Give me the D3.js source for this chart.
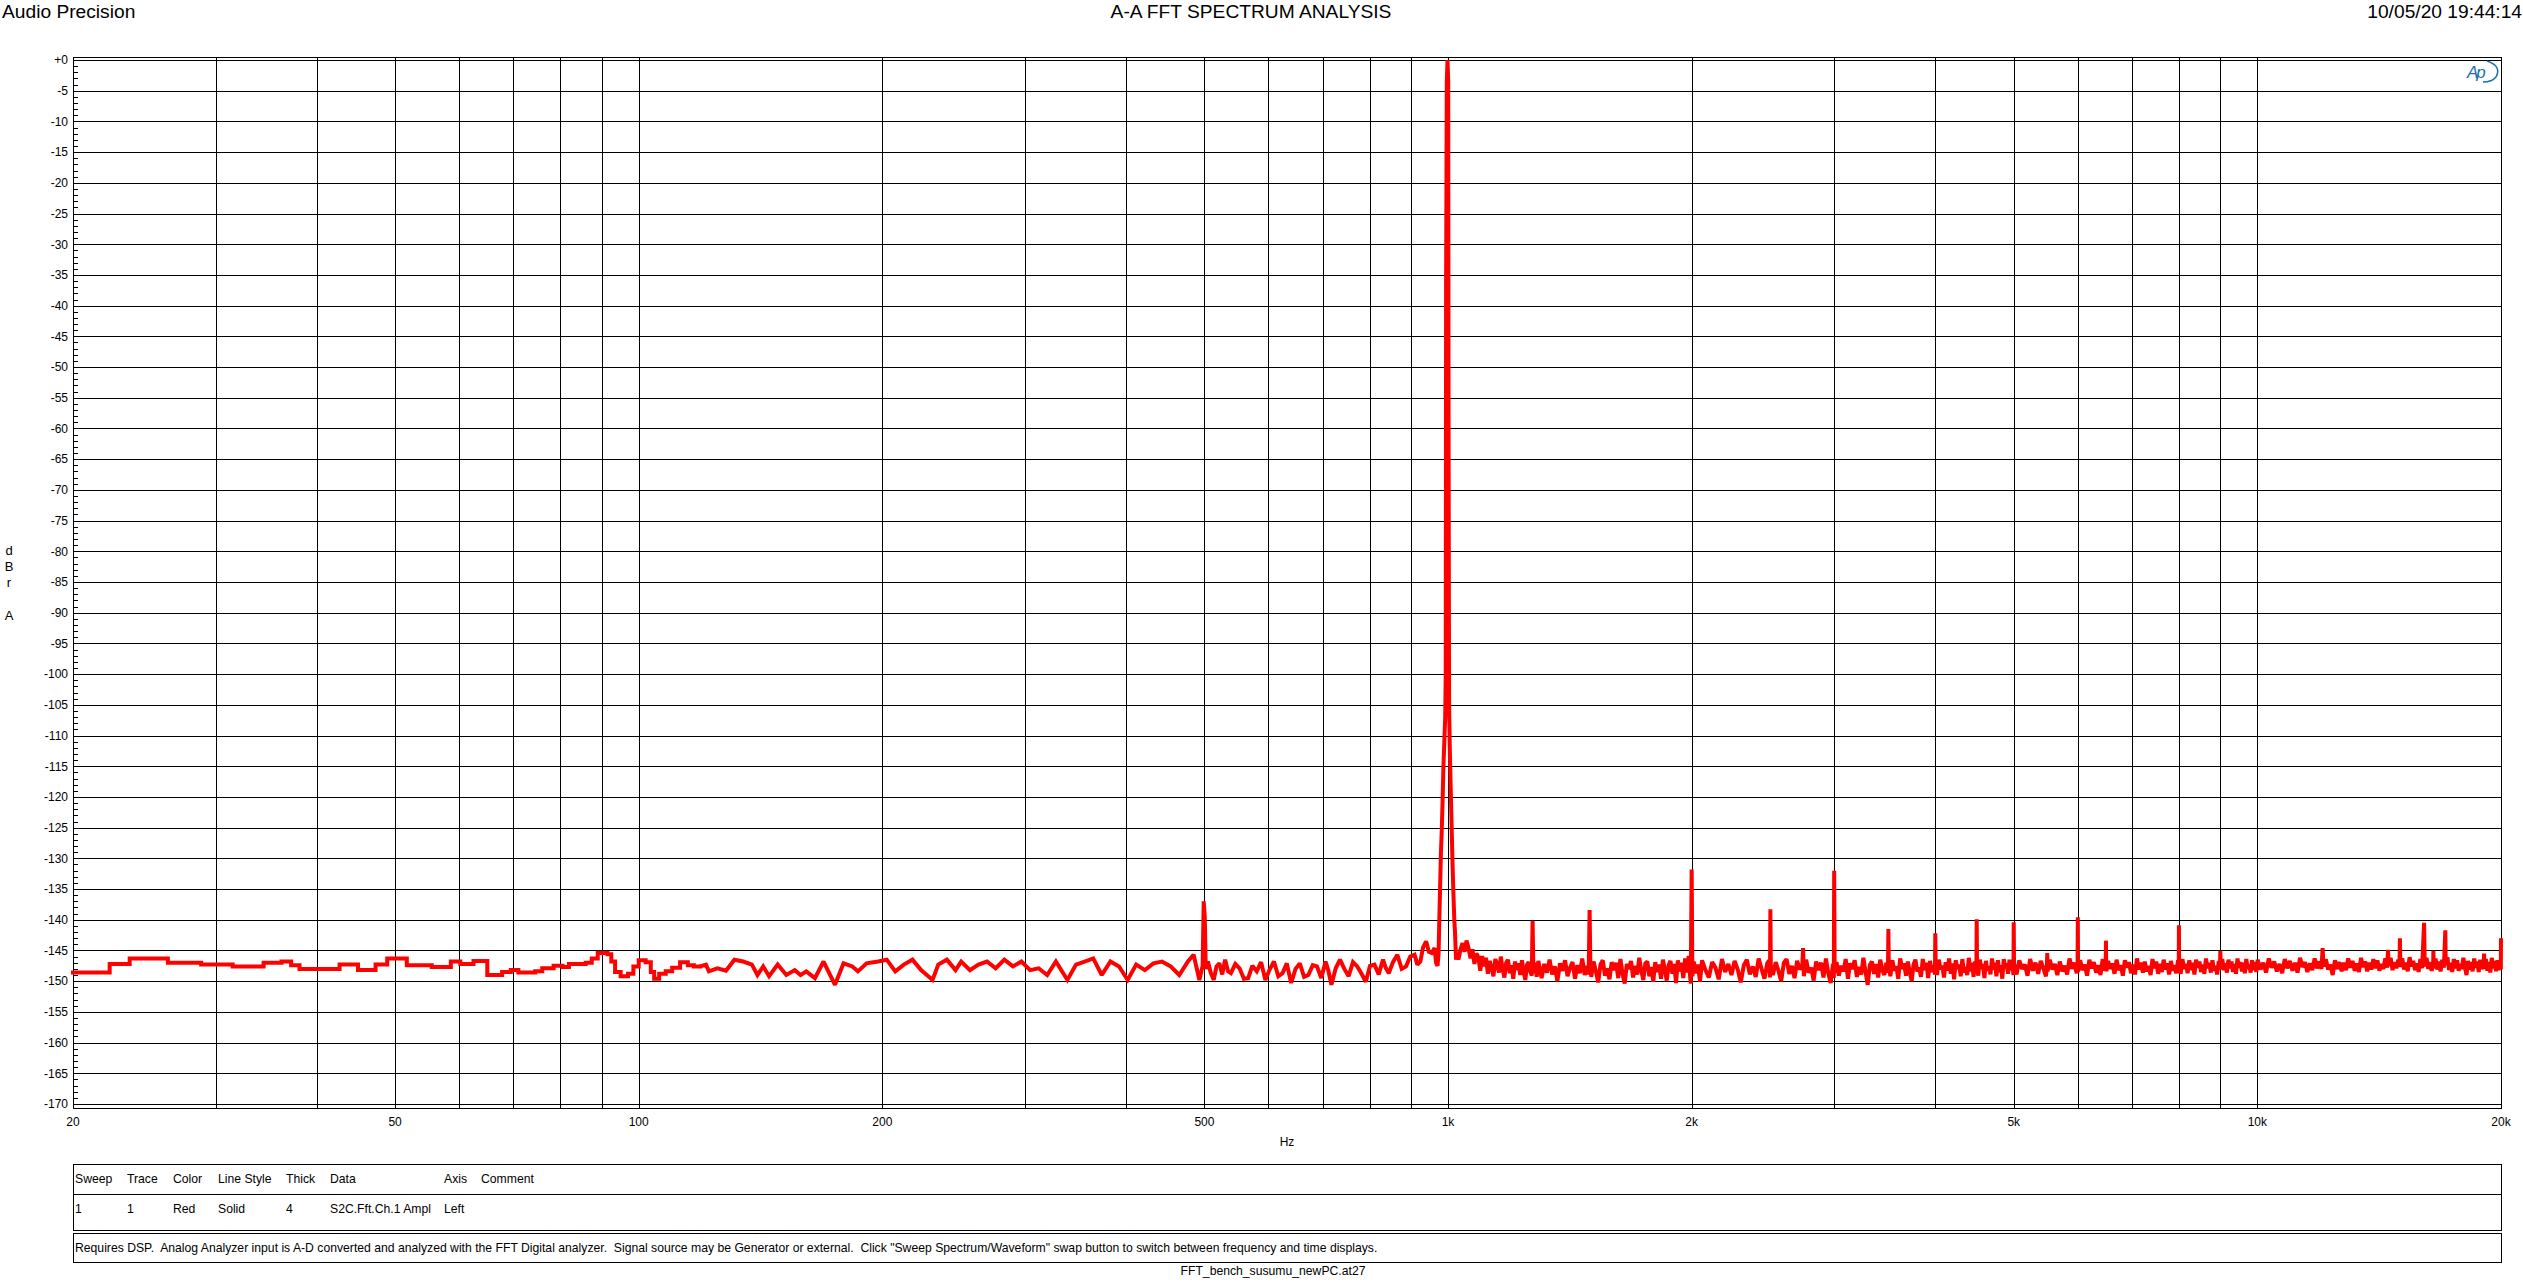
<!DOCTYPE html>
<html><head><meta charset="utf-8">
<script src="https://cdn.jsdelivr.net/npm/d3@7/dist/d3.min.js"></script>
<style>
body{margin:0;background:#fff;overflow:hidden}
svg text{font-family:"Liberation Sans",Arial,sans-serif;fill:#000}
</style>
</head><body>
<svg id="chart" width="2523" height="1285"></svg>
<script>
// ---------------- DATA ----------------
const yTickValues = [0,-5,-10,-15,-20,-25,-30,-35,-40,-45,-50,-55,-60,-65,-70,-75,-80,-85,-90,-95,-100,-105,-110,-115,-120,-125,-130,-135,-140,-145,-150,-155,-160,-165,-170];
const yTickLabels = ["+0","-5","-10","-15","-20","-25","-30","-35","-40","-45","-50","-55","-60","-65","-70","-75","-80","-85","-90","-95","-100","-105","-110","-115","-120","-125","-130","-135","-140","-145","-150","-155","-160","-165","-170"];
const xTickValues = [20,50,100,200,500,1000,2000,5000,10000,20000];
const xTickLabels = ["20","50","100","200","500","1k","2k","5k","10k","20k"];
const xGridValues = [20,30,40,50,60,70,80,90,100,200,300,400,500,600,700,800,900,1000,2000,3000,4000,5000,6000,7000,8000,9000,10000,20000];

// Noise floor, 20 - 119 Hz (wide FFT bins, drawn as steps) [Hz, dBr]
const floorLow = [[20,-148.6],[22.2,-147.2],[23.5,-146.3],[26.2,-147.0],[28.8,-147.3],[31.5,-147.6],[34.4,-147.0],[36.2,-146.8],[37.2,-147.4],[38.1,-148.0],[42.7,-147.3],[45.0,-148.2],[47.3,-147.3],[48.9,-146.3],[51.7,-147.4],[55.5,-147.7],[58.6,-146.8],[60.2,-147.2],[62.5,-146.7],[65.0,-149.0],[67.8,-148.5],[69.5,-148.2],[71.0,-148.6],[74.5,-148.4],[76.0,-147.9],[78.5,-147.5],[80.5,-147.7],[82.0,-147.2],[86.0,-147.0],[87.5,-146.3],[89.0,-145.4],[91.5,-145.6],[92.5,-146.8],[93.5,-148.5],[95.0,-149.2],[97.0,-148.8],[98.5,-147.6],[100.0,-146.6],[102.0,-146.9],[103.5,-148.5],[104.5,-149.6],[106.0,-148.8],[108.0,-148.4],[110.0,-147.8],[112.5,-146.9],[115.0,-147.4],[117.0,-147.6]];

// Noise floor 119 - 970 Hz, incl. 500 Hz spur
const floorMid = [[119.1,-147.6],[121.1,-147.3],[122.1,-148.4],[125.1,-147.9],[128.2,-148.3],[131.3,-146.5],[134.6,-146.8],[138.0,-147.3],[140.2,-149.0],[142.5,-147.6],[144.9,-149.2],[148.5,-147.3],[152.2,-149.0],[155.9,-148.2],[158.5,-149.0],[161.1,-148.4],[165.1,-149.5],[169.2,-146.8],[174.8,-150.6],[179.1,-147.1],[183.6,-147.6],[186.6,-148.4],[191.2,-147.1],[197.6,-146.8],[202.5,-146.5],[207.5,-148.4],[212.6,-147.3],[217.9,-146.5],[223.3,-148.2],[230.7,-149.8],[234.5,-147.3],[240.3,-146.5],[246.3,-148.2],[250.3,-146.8],[256.6,-148.2],[262.9,-147.3],[269.4,-146.8],[276.1,-147.9],[283.0,-146.5],[290.0,-147.6],[297.1,-146.8],[304.5,-148.2],[312.0,-147.9],[319.7,-149.0],[327.7,-146.8],[338.6,-149.8],[347.0,-147.3],[355.6,-146.8],[364.4,-146.3],[373.4,-149.0],[382.7,-146.8],[392.2,-147.6],[401.9,-149.8],[411.8,-147.3],[422.1,-148.2],[432.5,-147.1],[443.2,-146.8],[454.3,-147.6],[465.5,-149.0],[477.1,-146.8],[484.9,-145.7],[492.9,-149.8],[497.5,-147.5],[499.0,-137.0],[500.5,-139.5],[502.0,-148.0],[505.1,-146.8],[509.0,-148.6],[513.5,-149.8],[517.5,-147.6],[521.8,-147.1],[526.0,-148.9],[530.4,-146.5],[534.8,-148.4],[539.2,-148.7],[546.0,-147.2],[552.6,-147.9],[559.5,-149.6],[566.3,-149.5],[573.0,-147.5],[580.3,-148.4],[587.5,-146.9],[594.7,-149.8],[602.0,-148.1],[609.4,-146.8],[617.0,-149.2],[624.5,-148.7],[632.0,-147.1],[640.0,-150.3],[648.0,-148.0],[655.9,-147.1],[664.0,-149.3],[672.1,-149.0],[680.5,-147.4],[688.8,-147.6],[697.3,-149.5],[705.8,-146.8],[711.5,-148.3],[717.6,-150.6],[726.5,-147.9],[735.4,-146.5],[744.5,-148.0],[753.7,-149.2],[763.0,-146.9],[772.3,-147.6],[782.0,-148.8],[791.4,-150.1],[801.0,-147.5],[811.1,-147.3],[821.0,-148.9],[831.1,-146.5],[838.0,-147.9],[844.8,-148.7],[855.0,-146.9],[865.7,-145.7],[876.5,-148.0],[887.3,-147.6],[898.0,-146.0],[909.2,-145.7],[916.5,-147.3],[924.2,-146.8],[931.5,-144.5],[939.5,-143.5],[947.0,-145.2],[954.8,-145.4],[962.5,-144.6],[966.5,-147.0]];

// 1 kHz fundamental and its skirt
const fundamental = [[970.6,-147.5],[973.5,-145.5],[975.5,-140],[978,-134],[980,-129],[982,-126],[984.5,-121],[987,-115],[989.5,-111],[992,-107],[993.5,-100],[994.5,-37],[996.5,-3.5],[998.5,0],[1000.5,-3.5],[1001.5,-60],[1003,-105],[1005,-112],[1007,-117],[1010,-124],[1012.5,-130],[1015,-135],[1018,-140],[1020,-142],[1023,-146.5],[1026,-145.5]];

// Noise floor 1.03 - 1.3 kHz (incl. 1.27 kHz spur)
const floorHighA = [[1030,-146.5],[1036,-144.9],[1042,-143.8],[1048,-145.2],[1054,-143.4],[1060,-144.6],[1066,-146.3],[1072,-144.8],[1078,-147.2],[1084,-145.5],[1090,-146.1],[1096,-148.3],[1102,-145.9],[1108,-147.6],[1114,-146.2],[1120,-148.8],[1126,-146.7],[1132,-147.9],[1138,-149.2],[1144,-146.4],[1150,-147.3],[1156,-148.6],[1162,-146.0],[1168,-148.1],[1174,-149.4],[1180,-147.0],[1186,-146.5],[1192,-148.7],[1198,-147.4],[1204,-149.6],[1210,-146.8],[1216,-148.2],[1222,-147.1],[1228,-149.0],[1234,-146.6],[1240,-148.4],[1246,-149.8],[1252,-147.3],[1258,-146.9],[1264,-148.5],[1269,-149.1],[1272,-140.2],[1275,-148.7],[1281,-147.0],[1287,-149.3],[1293,-146.7],[1299,-148.1]];

// Noise floor 1.3 - 2 kHz (incl. 1.5 kHz spur, 2 kHz harmonic)
const floorHighB = [[1305,-149.5],[1315,-147.2],[1325,-148.6],[1335,-146.5],[1345,-148.9],[1355,-147.6],[1365,-150.0],[1375,-147.1],[1385,-148.3],[1395,-146.6],[1405,-149.2],[1415,-147.8],[1425,-146.9],[1435,-149.6],[1445,-147.4],[1455,-148.7],[1465,-146.3],[1475,-149.0],[1485,-147.5],[1492,-148.9],[1496,-138.4],[1499,-147.0],[1503,-149.3],[1513,-146.8],[1523,-148.4],[1533,-150.2],[1543,-147.3],[1553,-146.6],[1563,-149.1],[1573,-147.9],[1583,-149.7],[1593,-146.9],[1603,-148.2],[1613,-147.0],[1623,-149.5],[1633,-146.4],[1643,-148.8],[1653,-150.4],[1663,-147.2],[1673,-148.0],[1683,-146.7],[1693,-149.4],[1703,-147.5],[1713,-148.9],[1723,-146.2],[1733,-148.3],[1743,-149.8],[1753,-147.1],[1763,-146.8],[1773,-149.2],[1783,-147.7],[1793,-150.1],[1803,-146.9],[1813,-148.5],[1823,-147.3],[1833,-149.6],[1843,-146.5],[1853,-148.1],[1863,-149.9],[1873,-147.4],[1883,-146.7],[1893,-148.8],[1903,-147.2],[1913,-150.3],[1923,-146.6],[1933,-148.4],[1943,-147.0],[1953,-149.5],[1963,-146.3],[1973,-148.6],[1983,-145.9],[1990,-148.9],[1995,-150.4],[2000,-131.8],[2004,-149.2]];

// Noise floor 2 - 5 kHz (harmonics and spurs)
const floorHighC = [[2012,-146.8],[2024,-148.7],[2036,-147.3],[2048,-150.1],[2060,-146.6],[2080,-148.2],[2100,-149.4],[2120,-146.9],[2140,-147.8],[2160,-149.7],[2180,-146.4],[2200,-148.5],[2220,-147.2],[2240,-149.0],[2260,-146.7],[2280,-148.1],[2300,-150.2],[2320,-147.4],[2340,-146.5],[2360,-148.9],[2380,-147.6],[2400,-149.3],[2420,-146.3],[2440,-148.0],[2460,-149.6],[2480,-147.1],[2494,-146.6],[2499,-149.4],[2502,-138.3],[2505,-147.6],[2520,-149.0],[2540,-146.9],[2560,-148.3],[2580,-150.0],[2600,-147.0],[2620,-146.4],[2640,-148.8],[2660,-147.5],[2680,-149.5],[2700,-146.7],[2720,-148.1],[2740,-147.3],[2746,-144.6],[2752,-149.2],[2770,-146.5],[2790,-148.6],[2810,-147.8],[2830,-149.9],[2850,-146.8],[2870,-148.2],[2890,-147.0],[2910,-149.4],[2930,-146.3],[2950,-148.7],[2970,-150.3],[2990,-147.2],[2997,-149.5],[3000,-132.0],[3004,-148.6],[3020,-146.9],[3040,-149.1],[3060,-147.5],[3080,-148.4],[3100,-146.4],[3120,-149.6],[3140,-147.1],[3160,-148.0],[3180,-146.6],[3200,-149.3],[3220,-147.7],[3240,-148.9],[3260,-146.2],[3280,-148.5],[3300,-150.6],[3320,-147.4],[3340,-146.8],[3360,-148.8],[3380,-147.2],[3400,-149.4],[3420,-146.5],[3440,-148.1],[3460,-149.0],[3480,-147.0],[3496,-148.6],[3500,-141.5],[3504,-147.3],[3520,-149.2],[3540,-146.6],[3560,-148.3],[3580,-147.6],[3600,-149.6],[3620,-146.3],[3640,-148.0],[3660,-147.1],[3680,-149.1],[3700,-146.8],[3720,-148.6],[3740,-150.0],[3760,-147.3],[3780,-146.5],[3800,-148.4],[3820,-147.8],[3840,-149.3],[3860,-146.4],[3880,-148.2],[3900,-147.0],[3920,-149.5],[3940,-146.7],[3960,-148.5],[3980,-147.4],[3996,-148.9],[4000,-142.2],[4004,-147.2],[4020,-149.0],[4040,-146.5],[4060,-148.1],[4080,-147.5],[4100,-149.4],[4120,-146.9],[4140,-148.3],[4160,-146.3],[4180,-148.8],[4200,-147.1],[4220,-149.7],[4240,-146.6],[4260,-148.0],[4280,-147.3],[4300,-149.2],[4320,-146.4],[4340,-148.6],[4360,-147.7],[4380,-149.0],[4400,-146.2],[4420,-148.4],[4440,-147.0],[4460,-149.3],[4480,-146.8],[4496,-148.2],[4500,-139.9],[4504,-147.4],[4520,-149.1],[4540,-146.5],[4560,-148.0],[4580,-147.2],[4600,-149.5],[4620,-146.7],[4640,-148.3],[4660,-147.6],[4680,-148.9],[4700,-146.3],[4720,-148.1],[4740,-147.0],[4760,-149.2],[4780,-146.6],[4800,-148.5],[4820,-147.4],[4840,-149.6],[4860,-146.4],[4880,-147.9],[4900,-147.1],[4920,-148.8],[4940,-146.5],[4960,-148.2],[4980,-147.3],[4996,-149.0],[5000,-140.4],[5004,-147.2]];

// Noise floor 5 - 10 kHz
const floorHighD = [[5040,-148.9],[5080,-146.6],[5120,-148.0],[5160,-147.3],[5200,-149.1],[5240,-146.4],[5280,-148.3],[5320,-147.0],[5360,-148.8],[5400,-146.7],[5440,-147.9],[5480,-149.2],[5496,-147.1],[5500,-145.4],[5506,-148.4],[5540,-146.5],[5580,-148.1],[5620,-147.2],[5660,-149.0],[5700,-146.8],[5740,-148.4],[5780,-147.5],[5820,-148.9],[5860,-146.3],[5900,-148.0],[5940,-147.0],[5980,-148.7],[5996,-147.4],[6000,-139.6],[6004,-148.5],[6040,-146.6],[6080,-148.2],[6120,-147.3],[6160,-149.1],[6200,-146.5],[6240,-147.9],[6280,-146.9],[6320,-148.6],[6360,-147.4],[6400,-149.0],[6440,-146.4],[6480,-148.3],[6496,-147.2],[6500,-143.4],[6506,-148.4],[6540,-146.7],[6580,-148.0],[6620,-147.1],[6660,-148.8],[6700,-146.5],[6740,-148.2],[6780,-147.4],[6820,-149.1],[6860,-146.6],[6900,-147.8],[6940,-146.9],[6980,-148.7],[7020,-147.3],[7060,-148.9],[7100,-146.3],[7140,-148.1],[7180,-147.0],[7220,-148.6],[7260,-146.8],[7300,-148.4],[7340,-147.5],[7380,-149.0],[7420,-146.4],[7460,-147.9],[7500,-146.8],[7540,-148.8],[7580,-147.2],[7620,-148.5],[7660,-146.5],[7700,-148.1],[7740,-147.1],[7780,-148.9],[7820,-146.7],[7860,-148.3],[7900,-147.4],[7940,-148.7],[7980,-146.6],[7996,-148.0],[8000,-140.9],[8004,-147.5],[8040,-148.8],[8080,-146.4],[8120,-148.0],[8160,-147.2],[8200,-148.7],[8240,-146.6],[8280,-148.2],[8320,-147.0],[8360,-148.9],[8400,-146.5],[8440,-147.8],[8480,-146.8],[8520,-148.5],[8560,-147.3],[8600,-148.8],[8640,-146.3],[8680,-147.9],[8720,-147.0],[8760,-148.6],[8800,-146.6],[8840,-148.3],[8880,-147.5],[8920,-148.9],[8960,-146.7],[8990,-148.1],[9000,-145.1],[9010,-147.9],[9050,-146.4],[9090,-148.2],[9130,-147.1],[9170,-148.6],[9210,-146.5],[9250,-147.9],[9290,-146.8],[9330,-148.5],[9370,-147.2],[9410,-148.8],[9450,-146.3],[9490,-147.8],[9530,-146.9],[9570,-148.4],[9610,-147.0],[9650,-148.7],[9690,-146.4],[9730,-148.0],[9770,-147.3],[9810,-148.6],[9850,-146.6],[9890,-148.2],[9930,-146.9],[9970,-148.5]];

// Noise floor 10 - 20 kHz
const floorHighE = [[10010,-146.5],[10090,-148.1],[10170,-147.0],[10250,-148.6],[10330,-146.3],[10410,-147.8],[10490,-146.8],[10570,-148.4],[10650,-147.2],[10730,-148.7],[10810,-146.4],[10890,-147.9],[10970,-146.7],[11050,-148.3],[11130,-147.0],[11210,-148.6],[11290,-146.2],[11370,-147.7],[11450,-146.9],[11530,-148.5],[11610,-147.1],[11690,-148.2],[11770,-146.3],[11850,-147.9],[11930,-146.8],[12000,-148.0],[12040,-144.6],[12070,-147.6],[12150,-146.4],[12230,-148.1],[12310,-147.3],[12390,-149.0],[12470,-146.6],[12550,-148.0],[12630,-146.9],[12710,-148.4],[12790,-147.0],[12870,-148.2],[12950,-146.3],[13030,-147.8],[13110,-146.7],[13190,-148.3],[13270,-147.1],[13350,-148.5],[13430,-146.2],[13510,-147.7],[13590,-146.8],[13670,-148.4],[13750,-147.0],[13830,-148.1],[13910,-146.4],[13990,-147.9],[14070,-146.6],[14150,-148.3],[14230,-147.2],[14310,-148.0],[14390,-146.3],[14470,-147.8],[14500,-144.9],[14530,-147.5],[14610,-146.2],[14690,-148.2],[14770,-146.9],[14850,-147.9],[14930,-146.5],[14985,-147.6],[15000,-143.0],[15020,-147.7],[15100,-146.3],[15180,-148.1],[15260,-147.0],[15340,-148.4],[15420,-146.1],[15500,-147.6],[15580,-146.7],[15660,-148.2],[15740,-147.1],[15820,-148.5],[15900,-146.4],[15980,-147.9],[16070,-140.5],[16100,-147.6],[16180,-146.2],[16260,-148.0],[16340,-146.9],[16420,-148.3],[16490,-147.2],[16500,-145.1],[16520,-147.9],[16600,-146.3],[16680,-148.1],[16760,-146.8],[16840,-148.4],[16920,-146.5],[17000,-147.8],[17070,-141.7],[17090,-147.4],[17170,-146.1],[17250,-148.2],[17330,-147.0],[17410,-148.5],[17490,-146.4],[17570,-147.9],[17650,-146.6],[17730,-148.3],[17810,-147.2],[17890,-148.0],[17970,-146.2],[18050,-147.7],[18130,-149.0],[18210,-146.7],[18290,-148.1],[18370,-146.9],[18450,-148.4],[18530,-146.3],[18610,-147.8],[18690,-146.8],[18770,-148.5],[18850,-146.5],[18930,-148.0],[19040,-147.3],[19060,-145.5],[19080,-148.0],[19160,-146.4],[19240,-148.3],[19320,-146.9],[19400,-148.6],[19480,-146.2],[19560,-147.9],[19640,-146.7],[19720,-148.4],[19800,-146.6],[19880,-148.2],[19960,-147.0],[19990,-148.1],[20000,-143.0]];

const legendHeaders = ["Sweep","Trace","Color","Line Style","Thick","Data","Axis","Comment"];
const legendRow = ["1","1","Red","Solid","4","S2C.Fft.Ch.1 Ampl","Left",""];
const noteText = "Requires DSP.  Analog Analyzer input is A-D converted and analyzed with the FFT Digital analyzer.  Signal source may be Generator or external.  Click \"Sweep Spectrum/Waveform\" swap button to switch between frequency and time displays.";

// ---------------- DRAW ----------------
const svg = d3.select("#chart");
const L = 73, R = 2501, T = 57, B = 1108;
const x = d3.scaleLog().domain([20, 20000]).range([L, R]);
const y = d3.scaleLinear().domain([0, -170]).range([60, 1104]);

// header texts
svg.append("text").attr("x", 2).attr("y", 17.5).attr("font-size", 19.2).text("Audio Precision");
svg.append("text").attr("x", 1251).attr("y", 17.5).attr("font-size", 19.2).attr("text-anchor", "middle").text("A-A FFT SPECTRUM ANALYSIS");
svg.append("text").attr("x", 2522).attr("y", 17.5).attr("font-size", 19.2).attr("text-anchor", "end").text("10/05/20 19:44:14");

const g = svg.append("g").attr("shape-rendering", "crispEdges");
g.selectAll(".hg").data(yTickValues).enter().append("line")
  .attr("x1", L).attr("x2", R)
  .attr("y1", d => Math.round(y(d)) + 0.5).attr("y2", d => Math.round(y(d)) + 0.5)
  .attr("stroke", "#000").attr("stroke-width", 1);
g.selectAll(".vg").data(xGridValues).enter().append("line")
  .attr("x1", d => Math.round(x(d)) + 0.5).attr("x2", d => Math.round(x(d)) + 0.5)
  .attr("y1", T).attr("y2", B)
  .attr("stroke", "#000").attr("stroke-width", 1);
const minor = d3.range(0, -171, -1).filter(v => v % 5 !== 0);
g.selectAll(".mt").data(minor).enter().append("line")
  .attr("x1", L).attr("x2", L + 5)
  .attr("y1", d => Math.round(y(d)) + 0.5).attr("y2", d => Math.round(y(d)) + 0.5)
  .attr("stroke", "#000").attr("stroke-width", 1);
g.append("rect").attr("x", L + 0.5).attr("y", T + 0.5).attr("width", R - L).attr("height", B - T)
  .attr("fill", "none").attr("stroke", "#000").attr("stroke-width", 1);

svg.selectAll(".yl").data(yTickValues).enter().append("text")
  .attr("x", 68).attr("y", d => y(d) + 4.3)
  .attr("text-anchor", "end").attr("font-size", 12)
  .text((d, i) => yTickLabels[i]);
svg.selectAll(".xl").data(xTickValues).enter().append("text")
  .attr("x", d => x(d)).attr("y", 1126)
  .attr("text-anchor", "middle").attr("font-size", 12)
  .text((d, i) => xTickLabels[i]);
svg.append("text").attr("x", 1287).attr("y", 1146).attr("text-anchor", "middle").attr("font-size", 12).text("Hz");

[["d", 555], ["B", 571], ["r", 587], ["A", 620]].forEach(([t, yy]) => {
  svg.append("text").attr("x", 9).attr("y", yy).attr("text-anchor", "middle").attr("font-size", 13).text(t);
});

// AP logo
const logo = svg.append("g");
logo.append("text").attr("x", 2467).attr("y", 78).attr("font-size", 17).attr("font-style", "italic")
  .attr("font-family", "DejaVu Sans, sans-serif").style("fill", "#1b6fae").attr("letter-spacing", -2).text("Ap");
logo.append("path").attr("d", "M2487,61 Q2502,66 2496,77 Q2492,82 2483,82")
  .attr("fill", "none").attr("stroke", "#1b6fae").attr("stroke-width", 1.5);

// trace: low-frequency bins as steps, the rest as a connected line
const stepPart = floorLow.concat([floorMid[0]]);
const linePart = [].concat(floorMid, fundamental, floorHighA, floorHighB, floorHighC, floorHighD, floorHighE)
  .sort((a, b) => a[0] - b[0]);
const stepLine = d3.line().x(d => x(d[0])).y(d => y(d[1])).curve(d3.curveStepAfter);
const plainLine = d3.line().x(d => x(d[0])).y(d => y(d[1]));
svg.append("path").datum(stepPart).attr("d", stepLine)
  .attr("fill", "none").attr("stroke", "#ff0000").attr("stroke-width", 4)
  .attr("stroke-linejoin", "miter").attr("stroke-linecap", "square");
svg.append("path").datum(linePart).attr("d", plainLine)
  .attr("fill", "none").attr("stroke", "#ff0000").attr("stroke-width", 4)
  .attr("stroke-linejoin", "miter").attr("stroke-miterlimit", 2);

// legend table
const lg = svg.append("g").attr("shape-rendering", "crispEdges");
lg.append("rect").attr("x", L + 0.5).attr("y", 1164.5).attr("width", R - L).attr("height", 66).attr("fill", "none").attr("stroke", "#000");
lg.append("line").attr("x1", L).attr("x2", R).attr("y1", 1194.5).attr("y2", 1194.5).attr("stroke", "#000");
lg.append("rect").attr("x", L + 0.5).attr("y", 1233.5).attr("width", R - L).attr("height", 29).attr("fill", "none").attr("stroke", "#000");
const colX = [75, 127, 173, 218, 286, 330, 444, 481];
svg.selectAll(".lh").data(legendHeaders).enter().append("text")
  .attr("x", (d, i) => colX[i]).attr("y", 1183).attr("font-size", 12.2).text(d => d);
svg.selectAll(".lr").data(legendRow).enter().append("text")
  .attr("x", (d, i) => colX[i]).attr("y", 1213).attr("font-size", 12.2).text(d => d);
svg.append("text").attr("x", 75).attr("y", 1252).attr("font-size", 12.2).style("white-space", "pre").text(noteText);
svg.append("text").attr("x", 1273).attr("y", 1275).attr("font-size", 12.2).attr("text-anchor", "middle").text("FFT_bench_susumu_newPC.at27");
</script>
</body></html>
